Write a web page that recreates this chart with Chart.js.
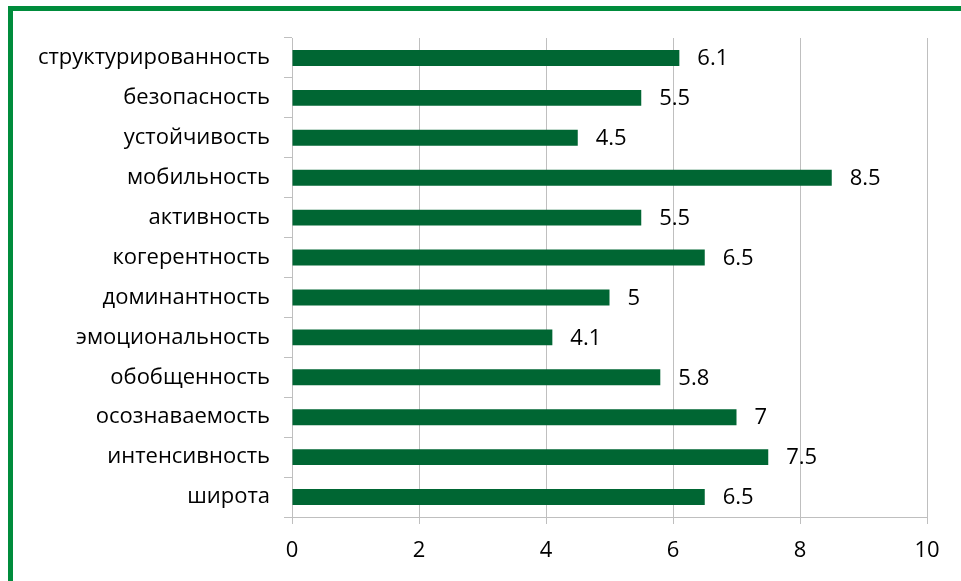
<!DOCTYPE html>
<html>
<head>
<meta charset="utf-8">
<script src="https://cdn.jsdelivr.net/npm/chart.js@4"></script>
<style>
    html, body { margin: 0; padding: 0; background: #fff; }
    #wrap { position: relative; width: 961px; height: 581px; overflow: hidden; }
    #frame {
        position: absolute; left: 8px; top: 6px; width: 1000px; height: 700px;
        border: 5px solid #008c3c; box-sizing: border-box;
    }
    #chart { position: absolute; left: 0; top: 0; }
</style>
</head>
<body>
<div id="wrap">
    <div id="frame"></div>
    <canvas id="chart" width="961" height="581"></canvas>
</div>
<script>
const categories = [
    'структурированность', 'безопасность', 'устойчивость', 'мобильность',
    'активность', 'когерентность', 'доминантность', 'эмоциональность',
    'обобщенность', 'осознаваемость', 'интенсивность', 'широта'
];
const values = [6.1, 5.5, 4.5, 8.5, 5.5, 6.5, 5, 4.1, 5.8, 7, 7.5, 6.5];
const xTicks = [0, 2, 4, 6, 8, 10];

const FONT = '"Open Sans", sans-serif';
const GRID = '#bfbfbf';

// value labels past the end of each bar
const barLabels = {
    id: 'barLabels',
    afterDatasetsDraw(chart) {
        const ctx = chart.ctx;
        const meta = chart.getDatasetMeta(0);
        ctx.save();
        ctx.font = '22px ' + FONT;
        ctx.fillStyle = '#000';
        ctx.textAlign = 'left';
        ctx.textBaseline = 'middle';
        meta.data.forEach((bar, i) => {
            ctx.fillText(String(values[i]), bar.x + 18, bar.y + 1);
        });
        ctx.restore();
    }
};

new Chart(document.getElementById('chart'), {
    type: 'bar',
    data: {
        labels: categories,
        datasets: [{
            data: values,
            backgroundColor: '#006633',
            borderWidth: 0,
            barPercentage: 0.4,
            categoryPercentage: 1
        }]
    },
    options: {
        indexAxis: 'y',
        responsive: false,
        animation: false,
        layout: { padding: { top: 38, right: 34, left: 0, bottom: 0 } },
        plugins: { legend: { display: false }, tooltip: { enabled: false } },
        scales: {
            x: {
                min: 0,
                max: 10,
                afterBuildTicks: s => { s.ticks = xTicks.map(v => ({ value: v })); },
                afterFit: s => { s.height = 64; },
                grid: { color: GRID, lineWidth: 1, tickLength: 7, tickColor: GRID },
                border: { color: GRID, width: 1 },
                ticks: { color: '#000', font: { family: FONT, size: 22 }, padding: 14 }
            },
            y: {
                afterFit: s => { s.width = 292; },
                grid: { drawOnChartArea: false, tickLength: 8, color: GRID, offset: true },
                border: { color: GRID, width: 1 },
                ticks: { color: '#000', font: { family: FONT, size: 22 }, padding: 14, autoSkip: false }
            }
        }
    },
    plugins: [barLabels]
});
</script>
</body>
</html>
